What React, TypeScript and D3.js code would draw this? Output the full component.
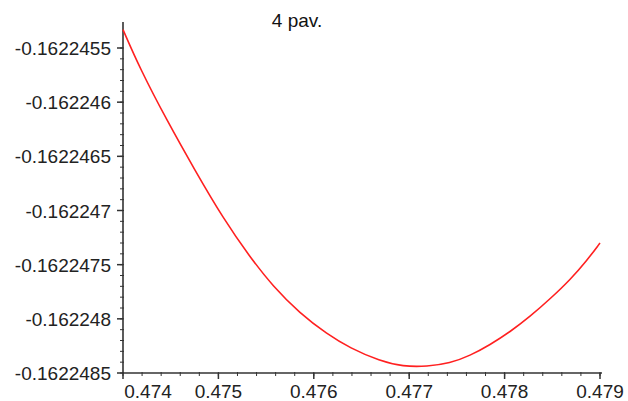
import { useEffect, useRef } from "react";
import * as d3 from "d3";

// curve
const xVals = [0.474, 0.474178, 0.474461, 0.474755, 0.475048, 0.475331, 0.475572, 0.475855, 0.476138, 0.476379, 0.476694, 0.476935, 0.477187, 0.477428, 0.477637, 0.477847, 0.478057, 0.478266, 0.478497, 0.478686, 0.478864, 0.479];
const yVals = [-0.16224533, -0.16224569, -0.16224617, -0.16224663, -0.16224707, -0.16224743, -0.1622477, -0.16224795, -0.16224814, -0.16224827, -0.16224839, -0.16224844, -0.16224844, -0.16224841, -0.16224834, -0.16224824, -0.16224812, -0.16224798, -0.1622478, -0.16224764, -0.16224746, -0.1622473];

const xTicks = [0.474, 0.475, 0.476, 0.477, 0.478, 0.479];
const yTicks = [-0.1622455, -0.162246, -0.1622465, -0.162247, -0.1622475, -0.162248, -0.1622485];
const title = "4 pav.";

export default function App() {
  const svgRef = useRef<SVGSVGElement>(null);

  useEffect(() => {
    const svg = d3.select(svgRef.current);
    svg.selectAll("*").remove();

    const width = 628, height = 401;
    const left = 123, right = 600, top = 22, bottom = 373;

    const x = d3.scaleLinear().domain([0.474, 0.479]).range([left, right]);
    const y = d3.scaleLinear().domain([-0.1622485, -0.16224526]).range([bottom, top]);

    svg.attr("width", width).attr("height", height);
    const font = "'Liberation Sans', Arial, sans-serif";
    const axisColor = "#333";

    // minor ticks
    const xMinor = d3.range(0, 26).map(i => 0.474 + i * 0.0002);
    svg.append("g").selectAll("line").data(xMinor).enter().append("line")
      .attr("x1", d => x(d)).attr("x2", d => x(d))
      .attr("y1", bottom - 1).attr("y2", bottom + 3)
      .attr("stroke", axisColor).attr("stroke-width", 1);
    const yMinor = d3.range(0, 31).map(i => -0.1622485 + i * 1e-7).filter(v => y(v) >= top);
    svg.append("g").selectAll("line").data(yMinor).enter().append("line")
      .attr("x1", left - 3).attr("x2", left + 1)
      .attr("y1", d => y(d)).attr("y2", d => y(d))
      .attr("stroke", axisColor).attr("stroke-width", 1);

    // major ticks
    svg.append("g").selectAll("line").data(xTicks).enter().append("line")
      .attr("x1", d => x(d)).attr("x2", d => x(d))
      .attr("y1", bottom).attr("y2", bottom + 6)
      .attr("stroke", axisColor).attr("stroke-width", 1.5);
    svg.append("g").selectAll("line").data(yTicks).enter().append("line")
      .attr("x1", left - 6).attr("x2", left)
      .attr("y1", d => y(d)).attr("y2", d => y(d))
      .attr("stroke", axisColor).attr("stroke-width", 1.5);

    // axis lines
    svg.append("line").attr("x1", left).attr("x2", left).attr("y1", top).attr("y2", bottom)
      .attr("stroke", axisColor).attr("stroke-width", 1.6);
    svg.append("line").attr("x1", left).attr("x2", right + 2).attr("y1", bottom).attr("y2", bottom)
      .attr("stroke", axisColor).attr("stroke-width", 1.6);

    // labels
    svg.append("g").selectAll("text").data(yTicks).enter().append("text")
      .attr("x", left - 12).attr("y", d => y(d) + 7)
      .attr("text-anchor", "end")
      .style("font-family", font).style("font-size", "19px").style("fill", "#222")
      .text(d => String(+d.toFixed(7)));
    svg.append("g").selectAll("text").data(xTicks).enter().append("text")
      .attr("x", d => Math.max(x(d), left + 25)).attr("y", bottom + 25)
      .attr("text-anchor", "middle")
      .style("font-family", font).style("font-size", "19px").style("fill", "#222")
      .text(d => String(d));

    svg.append("text").attr("x", 297).attr("y", 27).attr("text-anchor", "middle")
      .style("font-family", font).style("font-size", "19px").style("fill", "#111")
      .text(title);

    const line = d3.line<number>()
      .x(i => x(xVals[i])).y(i => y(yVals[i]))
      .curve(d3.curveBasis);
    svg.append("path").attr("d", line(d3.range(xVals.length)))
      .attr("fill", "none").attr("stroke", "#ff2020").attr("stroke-width", 1.6);
  }, []);

  return <svg ref={svgRef} style={{ position: "absolute", left: 0, top: 0 }} />;
}
